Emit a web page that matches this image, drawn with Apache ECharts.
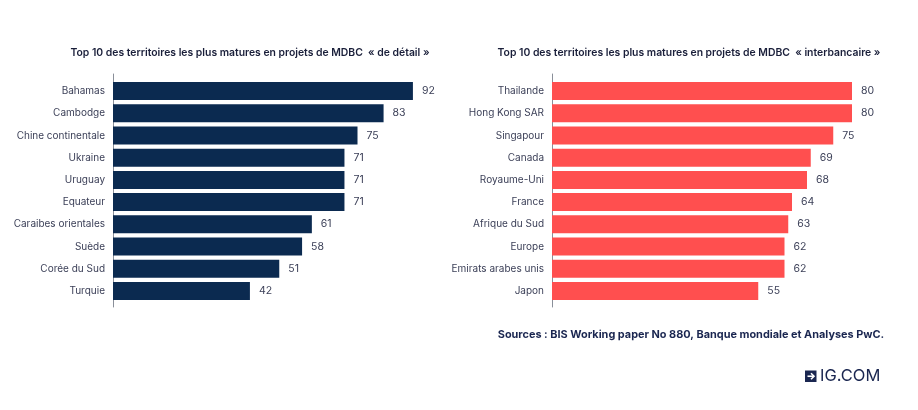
<!DOCTYPE html>
<html><head><meta charset="utf-8">
<script src="https://cdn.jsdelivr.net/npm/echarts@6/dist/echarts.min.js"></script>
<style>html,body{margin:0;padding:0;background:#fff}#c{width:918px;height:410px}</style>
</head><body><div id="c"></div>
<script>
const retailCategories = ["Bahamas","Cambodge","Chine continentale","Ukraine","Uruguay","Equateur","Caraibes orientales","Suède","Corée du Sud","Turquie"];
const retailValues = [92,83,75,71,71,71,61,58,51,42];
const wholesaleCategories = ["Thailande","Hong Kong SAR","Singapour","Canada","Royaume-Uni","France","Afrique du Sud","Europe","Emirats arabes unis","Japon"];
const wholesaleValues = [80,80,75,69,68,64,63,62,62,55];
const leftTitle = "Top 10 des territoires les plus matures en projets de MDBC  « de détail »";
const rightTitle = "Top 10 des territoires les plus matures en projets de MDBC  « interbancaire »";
const sourceText = "Sources : BIS Working paper No 880, Banque mondiale et Analyses PwC.";

const FONT = "Inter, 'Noto Sans', sans-serif";
const NAVY = "#0b2a50";
const RED = "#ff4f4f";
const chart = echarts.init(document.getElementById('c'), null, {renderer:'canvas'});

function catAxis(gridIndex, data){
  return {type:'category', gridIndex, data, inverse:true,
    axisLine:{show:false}, axisTick:{show:false},
    axisLabel:{color:'#3c4058', fontSize:10, fontFamily:FONT, margin:8}};
}
function lineAxis(gridIndex){
  return {type:'category', gridIndex, data:[''], axisLine:{show:true, lineStyle:{color:'#8a8f99', width:1}},
    axisTick:{show:false}, axisLabel:{show:false}};
}
function valAxis(gridIndex, max){
  return {type:'value', gridIndex, min:0, max, show:false, splitLine:{show:false}};
}
function barSeries(idx, data, color){
  return {type:'bar', xAxisIndex:idx, yAxisIndex:idx, data, barWidth:18,
    itemStyle:{color}, label:{show:true, position:'right', distance:9, color:'#3c4058', fontSize:10.5, fontFamily:FONT}};
}

chart.setOption({
  animation:false,
  textStyle:{fontFamily:FONT},
  title:[
    {text:leftTitle, left:245, top:43, textAlign:'center', textStyle:{fontSize:10.4, fontWeight:600, color:'#1a1f3a', fontFamily:FONT}},
    {text:rightTitle, left:684, top:43, textAlign:'center', textStyle:{fontSize:10.4, fontWeight:600, color:'#1a1f3a', fontFamily:FONT}},
    {text:sourceText, left:686, top:324, textAlign:'center', textStyle:{fontSize:10.9, fontWeight:'bold', color:'#1a2650', fontFamily:FONT}}
  ],
  grid:[
    {left:113, top:80, width:326, height:222},
    {left:552, top:80, width:356.25, height:222},
    {left:113, top:74, width:326, height:233},
    {left:552, top:74, width:356.25, height:233}
  ],
  xAxis:[valAxis(0, 100), valAxis(1, 95), {type:'value', gridIndex:2, show:false}, {type:'value', gridIndex:3, show:false}],
  yAxis:[catAxis(0, retailCategories), catAxis(1, wholesaleCategories), lineAxis(2), lineAxis(3)],
  series:[barSeries(0, retailValues, NAVY), barSeries(1, wholesaleValues, RED)],
  graphic:[
    {type:'group', left:805, top:368, children:[
      {type:'rect', shape:{x:0,y:0,width:11.5,height:11.5}, style:{fill:'#1a2650'}},
      {type:'polyline', shape:{points:[[2.5,5.75],[9,5.75]]}, style:{stroke:'#fff', lineWidth:1.6, fill:null}},
      {type:'polyline', shape:{points:[[6,2.8],[9,5.75],[6,8.7]]}, style:{stroke:'#fff', lineWidth:1.6, fill:null}},
      {type:'text', style:{text:'IG.COM', x:15, y:-2.5, fill:'#1a2650', fontSize:16.5, fontFamily:FONT}}
    ]}
  ]
});
</script></body></html>
